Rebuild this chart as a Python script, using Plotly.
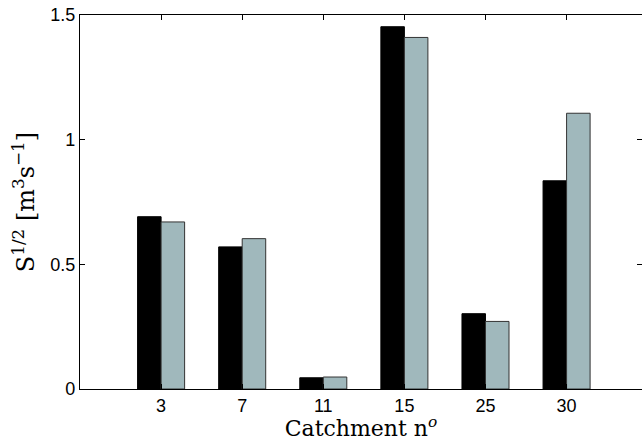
import plotly.graph_objects as go

categories = ["3", "7", "11", "15", "25", "30"]
positions = [1, 2, 3, 4, 5, 6]
series_a = [0.691, 0.570, 0.045, 1.453, 0.302, 0.835]
series_b = [0.670, 0.603, 0.048, 1.410, 0.271, 1.106]
y_ticks = [0, 0.5, 1, 1.5]
y_tick_text = ["0", "0.5", "1", "1.5"]

fig = go.Figure()
fig.add_trace(go.Bar(x=positions, y=series_a, marker=dict(color="#000000", line=dict(color="#000000", width=1)), showlegend=False))
fig.add_trace(go.Bar(x=positions, y=series_b, marker=dict(color="#A0B8BC", line=dict(color="#333333", width=1)), showlegend=False))
# invisible trace for right-side ticks
fig.add_trace(go.Scatter(x=[positions[0]], y=[0], yaxis="y2", mode="markers", marker=dict(opacity=0), showlegend=False, hoverinfo="skip"))

serif = "DejaVu Serif, serif"
fig.update_layout(
    width=642, height=441,
    margin=dict(l=79.5, r=0, t=15, b=52, autoexpand=False),
    paper_bgcolor="white", plot_bgcolor="white",
    barmode="group", bargap=0.42, bargroupgap=0,
    font=dict(family="Liberation Sans, Arial", size=18, color="black"),
    xaxis=dict(
        range=[0, 6.93], tickmode="array", tickvals=positions, ticktext=categories,
        showgrid=False, zeroline=False, showline=True, linecolor="black", linewidth=1.3,
        mirror="ticks", ticks="inside", ticklen=5, tickcolor="black",
        tickfont=dict(family="Liberation Sans, Arial", size=18),
        title=dict(text="Catchment n<sup><i>o</i></sup>", font=dict(family=serif, size=22), standoff=0),
    ),
    yaxis=dict(
        range=[0, 1.5], tickmode="array", tickvals=y_ticks, ticktext=y_tick_text,
        showgrid=False, zeroline=False, showline=True, linecolor="black", linewidth=1.3,
        mirror=False, ticks="inside", ticklen=5, tickcolor="black",
        tickfont=dict(family="Liberation Sans, Arial", size=18),
        title=dict(text="S<sup>1/2</sup>\u00a0[m<sup>3</sup>s<sup>−1</sup>]", font=dict(family=serif, size=24), standoff=8),
    ),
    yaxis2=dict(
        range=[0, 1.5], overlaying="y", side="right", tickmode="array", tickvals=y_ticks,
        showticklabels=False, showgrid=False, zeroline=False, showline=False,
        ticks="inside", ticklen=5, tickcolor="black",
    ),
)

fig.write_html("out.html")
